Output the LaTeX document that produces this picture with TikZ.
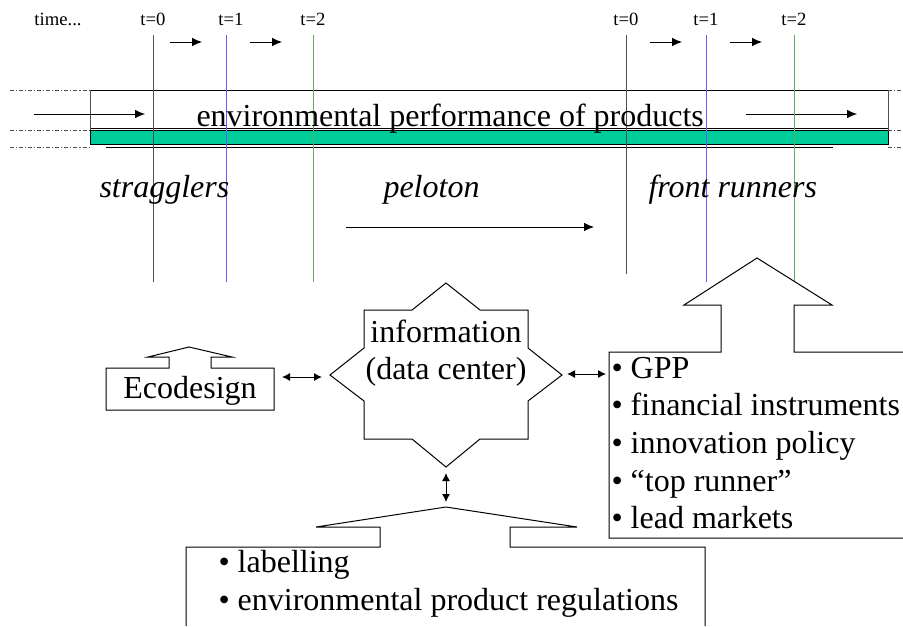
\documentclass[tikz,border=0pt]{standalone}
\usepackage{fontspec}
\setmainfont{Liberation Serif}
\usetikzlibrary{arrows.meta}
\definecolor{barcol}{RGB}{0,204,153}
\definecolor{tblue}{RGB}{95,95,255}
\definecolor{tgreen}{RGB}{95,175,95}
\definecolor{tgray}{RGB}{80,80,80}
\begin{document}
\begin{tikzpicture}[x=0.75pt,y=-0.75pt, line width=0.75pt,
  arr/.style={-{Latex[length=7.5pt,width=6.5pt]}},
  darr/.style={{Latex[length=6pt,width=6pt]}-{Latex[length=6pt,width=6pt]}},
  big/.style={font=\fontsize{24}{28}\selectfont, inner sep=0pt},
  small/.style={font=\fontsize{14}{16}\selectfont, inner sep=0pt},
  ital/.style={font=\fontsize{24}{28}\selectfont\itshape, inner sep=0pt},
  dd/.style={dash pattern=on 3pt off 1.5pt on 0.8pt off 1.5pt, line width=0.6pt, tgray},
  outline/.style={draw=black, line width=0.75pt, line join=miter},
]
\useasboundingbox (0,0) rectangle (903,626);

% time labels
\node[small, anchor=base] (time) at (58,25) {time...};
\node[small, anchor=base] (la0) at (153,25) {t=0};
\node[small, anchor=base] (la1) at (231,25) {t=1};
\node[small, anchor=base] (la2) at (313,25) {t=2};
\node[small, anchor=base] (lb0) at (626,25) {t=0};
\node[small, anchor=base] (lb1) at (706,25) {t=1};
\node[small, anchor=base] (lb2) at (794,25) {t=2};

% small time arrows
\draw[arr] (170,42) -- (202,42);
\draw[arr] (250,42) -- (282,42);
\draw[arr] (650,42) -- (682,42);
\draw[arr] (730,42) -- (762,42);

% performance box
\draw[outline] (90,90) -- (888,90);
\draw[outline] (90,128) -- (888,128);
\draw[tgray] (90,90) -- (90,145);
\draw[tgray] (888,90) -- (888,145);
\draw[fill=barcol, draw=black] (90,130) rectangle (888,144);
\draw (106,147) -- (833,147);
\foreach \yy in {90,130,147} {
  \draw[dd] (10,\yy) -- (90,\yy);
  \draw[dd] (888,\yy) -- (903,\yy);
}
\draw[arr] (34,114) -- (145,114);
\draw[arr] (746,114) -- (857,114);

% vertical time lines
\draw[tgray] (153,35) -- (153,282);
\draw[tblue] (226,35) -- (226,282);
\draw[tgreen] (313,35) -- (313,282);
\draw[tgray] (626,35) -- (626,274);
\draw[tblue] (706,35) -- (706,282);
\draw[tgreen] (794,35) -- (794,281);

\node[big, anchor=base west] (env) at (196,126) {environmental performance of products};

% italic labels
\node[ital, anchor=base west] (strag) at (99,197) {stragglers};
\node[ital, anchor=base west] (pelo) at (383,197) {peloton};
\node[ital, anchor=base west] (front) at (648,197) {front runners};
\draw[arr] (346,227) -- (594,227);

% Ecodesign box with arrow
\draw[outline] (106,368) -- (169,368) -- (169,357) -- (148,357) -- (189,347) -- (232,357) -- (211,357) -- (211,368) -- (274,368) -- (274,410) -- (106,410) -- cycle;
\node[big, anchor=base] (eco) at (190,398) {Ecodesign};

% star (information)
\draw[outline] (446,283) -- (480,310) -- (528,310) -- (528,348) -- (562,375) -- (528,401) -- (528,439) -- (480,439) -- (446,467) -- (412,439) -- (364,439) -- (364,401) -- (330,375) -- (364,348) -- (364,310) -- (412,310) -- cycle;
\node[big, anchor=base] (info1) at (446,342) {information};
\node[big, anchor=base] (info2) at (446,379) {(data center)};

% right box with arrow
\draw[outline] (903,538) -- (609,538) -- (609,352) -- (721,352) -- (721,305) -- (684,305) -- (757,258) -- (832,305) -- (794,305) -- (794,352) -- (903,352);
\node[big, anchor=base west] (r1) at (611,378) {• GPP};
\node[big, anchor=base west] (r2) at (611,415.7) {• financial instruments};
\node[big, anchor=base west] (r3) at (611,453.4) {• innovation policy};
\node[big, anchor=base west] (r4) at (611,491) {• “top runner”};
\node[big, anchor=base west] (r5) at (611,528.8) {• lead markets};

% bottom box with arrow
\draw[outline] (186,626) -- (186,547) -- (380,547) -- (380,527) -- (316,527) -- (446,507) -- (577,527) -- (510,527) -- (510,547) -- (705,547) -- (705,626);
\node[big, anchor=base west] (b1) at (218,572) {• labelling};
\node[big, anchor=base west] (b2) at (218,610) {• environmental product regulations};

% double arrows
\coordinate (ecoR) at (282,377);
\coordinate (starL) at (322,377);
\coordinate (starR) at (567,374);
\coordinate (boxL) at (606,374);
\coordinate (starB) at (446,473);
\coordinate (botT) at (446,502);
\draw[darr] (ecoR) -- (starL);
\draw[darr] (starR) -- (boxL);
\draw[darr] (starB) -- (botT);
\end{tikzpicture}
\end{document}
